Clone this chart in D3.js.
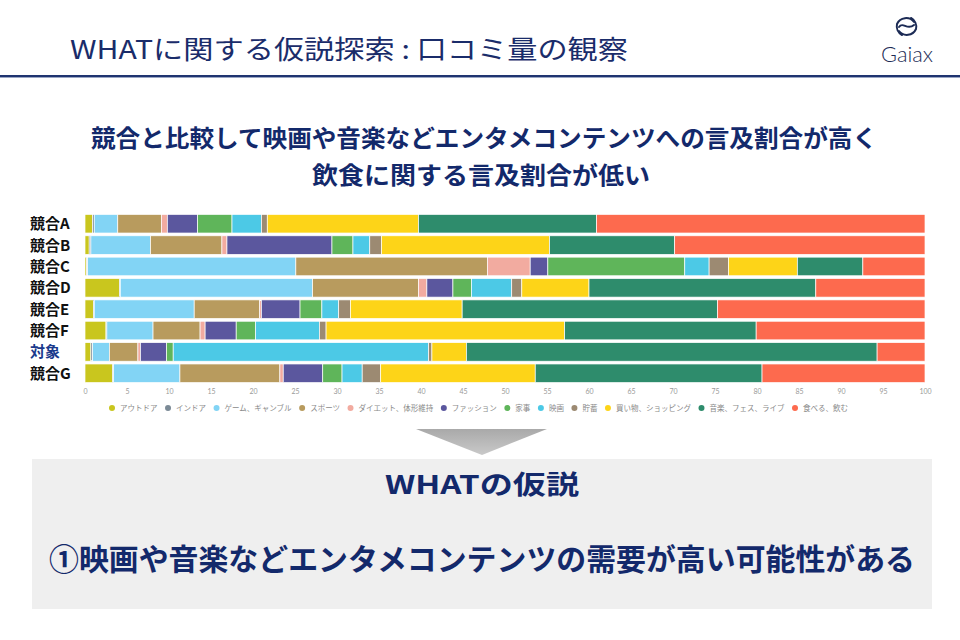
<!DOCTYPE html>
<html><head><meta charset="utf-8">
<script src="https://cdn.jsdelivr.net/npm/d3@7"></script>
<style>
html,body{margin:0;padding:0;background:#fff;}
svg{display:block;font-family:"Noto Sans CJK JP","Noto Sans",sans-serif;}
</style></head>
<body><svg id="c" width="960" height="640"></svg>
<script>
// ---- data ----
const categories = ["競合A","競合B","競合C","競合D","競合E","競合F","対象","競合G"];
const seriesNames = ["アウトドア","インドア","ゲーム、ギャンブル","スポーツ","ダイエット、体形維持","ファッション","家事","映画","貯蓄","買い物、ショッピング","音楽、フェス、ライブ","食べる、飲む"];
const seriesColors = ["#c9c61e","#7b8a96","#82d4f5","#b89b5e","#f2aba0","#5b579e","#5fb55a","#4cc9e6","#9c8a72","#fdd418","#2e8c6c","#fd6a4e"];
const outdoor  = [0.9, 0.5, 0.2, 4.1, 1.0, 2.5, 0.7, 3.3];
const indoor   = [0.2, 0.2, 0.1, 0.1, 0.1, 0.1, 0.2, 0.1];
const game     = [2.8, 7.1, 24.8, 22.9, 11.9, 5.5, 2.0, 7.9];
const sports   = [5.2, 8.5, 22.8, 12.6, 7.8, 5.6, 3.4, 11.9];
const diet     = [0.7, 0.6, 5.1, 1.0, 0.2, 0.6, 0.3, 0.4];
const fashion  = [3.6, 12.5, 2.1, 3.1, 4.6, 3.7, 3.1, 4.7];
const housework= [4.1, 2.5, 16.3, 2.2, 2.6, 2.3, 0.8, 2.3];
const movie    = [3.5, 2.0, 2.9, 4.8, 2.0, 7.6, 30.4, 2.4];
const savings  = [0.7, 1.4, 2.3, 1.2, 1.4, 0.8, 0.4, 2.2];
const shopping = [18.0, 20.0, 8.2, 8.0, 13.3, 28.4, 4.1, 18.4];
const music    = [21.2, 14.9, 7.8, 27.0, 30.4, 22.8, 48.9, 27.0];
const eat      = [39.1, 29.8, 7.4, 13.0, 24.7, 20.1, 5.7, 19.4];
const seriesValues = [outdoor, indoor, game, sports, diet, fashion, housework, movie, savings, shopping, music, eat];
const xTicks = [0,5,10,15,20,25,30,35,40,45,50,55,60,65,70,75,80,85,90,95,100];
const titleText = "WHATに関する仮説探索 : 口コミ量の観察";
const subLines = ["競合と比較して映画や音楽などエンタメコンテンツへの言及割合が高く","飲食に関する言及割合が低い"];
const boxTitle = "WHATの仮説";
const boxText = "①映画や音楽などエンタメコンテンツの需要が高い可能性がある";

// ---- build ----
const svg = d3.select("#c");
const navy = "#13296b";

// header
svg.append("text").attr("x",70).attr("y",59).attr("font-size",26).attr("fill","#1a2c6a")
  .attr("textLength",558).attr("lengthAdjust","spacingAndGlyphs").text(titleText);
svg.append("rect").attr("x",0).attr("y",75).attr("width",960).attr("height",2).attr("fill","#1f3470");
svg.append("rect").attr("x",0).attr("y",77).attr("width",960).attr("height",1).attr("fill","#9aa6c4");

// logo
const lg = svg.append("g").attr("fill","none").attr("stroke","#1c2b55").attr("stroke-width",2).attr("stroke-linecap","round");
lg.append("path").attr("d","M914,22 A10,10 0 0 0 897,24 A10,10 0 0 0 902,35");
lg.append("path").attr("d","M899,31 A10,10 0 0 0 916,29 A10,10 0 0 0 911,18");
lg.append("path").attr("d","M899,27 C903,21 907,31 914,25");
svg.append("text").attr("x",907).attr("y",62).attr("text-anchor","middle").attr("font-family","Lato, 'Open Sans', sans-serif")
  .attr("font-weight",300).attr("font-size",22).attr("fill","#1c2b55").attr("textLength",52).attr("lengthAdjust","spacingAndGlyphs").text("Gaiax");

// subtitle
svg.append("text").attr("x",484).attr("y",147).attr("text-anchor","middle").attr("font-size",24).attr("font-weight",700)
  .attr("fill",navy).attr("textLength",786).attr("lengthAdjust","spacingAndGlyphs").text(subLines[0]);
svg.append("text").attr("x",481).attr("y",184).attr("text-anchor","middle").attr("font-size",24).attr("font-weight",700)
  .attr("fill",navy).attr("textLength",338).attr("lengthAdjust","spacingAndGlyphs").text(subLines[1]);

// chart
const x = d3.scaleLinear().domain([0,100]).range([85,925]);
const y = d3.scaleBand().domain(categories).range([214,383]).paddingInner(0.13).paddingOuter(0.02);

const rows = categories.map((c,i)=>{const o={cat:c}; seriesNames.forEach((s,j)=>o[s]=seriesValues[j][i]); return o;});
const stack = d3.stack().keys(seriesNames)(rows);
const color = d3.scaleOrdinal().domain(seriesNames).range(seriesColors);

svg.append("g").selectAll("g").data(stack).join("g").attr("fill",d=>color(d.key))
  .selectAll("rect").data(d=>d).join("rect")
  .attr("x",d=>x(d[0])).attr("width",d=>Math.max(0,x(d[1])-x(d[0])))
  .attr("y",d=>y(d.data.cat)).attr("height",y.bandwidth())
  .attr("stroke","#fff").attr("stroke-width",0.7);

// y labels
svg.append("g").selectAll("text").data(categories).join("text")
  .attr("x",30).attr("y",d=>y(d)+y.bandwidth()/2+5.5).attr("font-size",15).attr("font-weight",700)
  .attr("fill",d=>d==="対象"?"#1a3a8c":"#111").text(d=>d);

// x axis
const ax = svg.append("g").attr("transform","translate(0,386)")
  .call(d3.axisBottom(x).tickValues(xTicks).tickSize(0).tickPadding(3));
ax.select(".domain").remove();
ax.selectAll("text").attr("font-size",7).attr("fill","#9a9a9a").attr("font-family","Lato, sans-serif");

// legend
const leg = svg.append("g").attr("transform","translate(0,408)");
const items = leg.selectAll("g").data(seriesNames).join("g");
items.append("circle").attr("r",3).attr("cx",0).attr("cy",0).attr("fill",d=>color(d));
items.append("text").attr("x",8).attr("y",2.7).attr("font-size",7.5).attr("fill","#8a8a8a").text(d=>d);
let widths = [];
items.each(function(){ widths.push(this.querySelector("text").getComputedTextLength()+8); });
let cx = 112;
const scaleGap = (848-112 - d3.sum(widths))/(widths.length-1);
items.attr("transform",(d,i)=>{ const t=`translate(${cx},0)`; cx += widths[i]+scaleGap; return t; });

// arrow
const grad = svg.append("defs").append("linearGradient").attr("id","ag").attr("x1",0).attr("y1",0).attr("x2",0).attr("y2",1);
grad.append("stop").attr("offset","0").attr("stop-color","#a9a9a9");
grad.append("stop").attr("offset","1").attr("stop-color","#c9c9c9");
svg.append("path").attr("d","M416,429 L547,429 L482,455 Z").attr("fill","url(#ag)");

// box
svg.append("rect").attr("x",32).attr("y",459).attr("width",900).attr("height",150).attr("fill","#efefef");
svg.append("text").attr("x",482).attr("y",494).attr("text-anchor","middle").attr("font-size",26).attr("font-weight",700)
  .attr("fill",navy).attr("textLength",194).attr("lengthAdjust","spacingAndGlyphs").text(boxTitle);
svg.append("text").attr("x",482).attr("y",570).attr("text-anchor","middle").attr("font-size",30).attr("font-weight",700)
  .attr("fill",navy).attr("textLength",866).attr("lengthAdjust","spacingAndGlyphs").text(boxText);
</script></body></html>
